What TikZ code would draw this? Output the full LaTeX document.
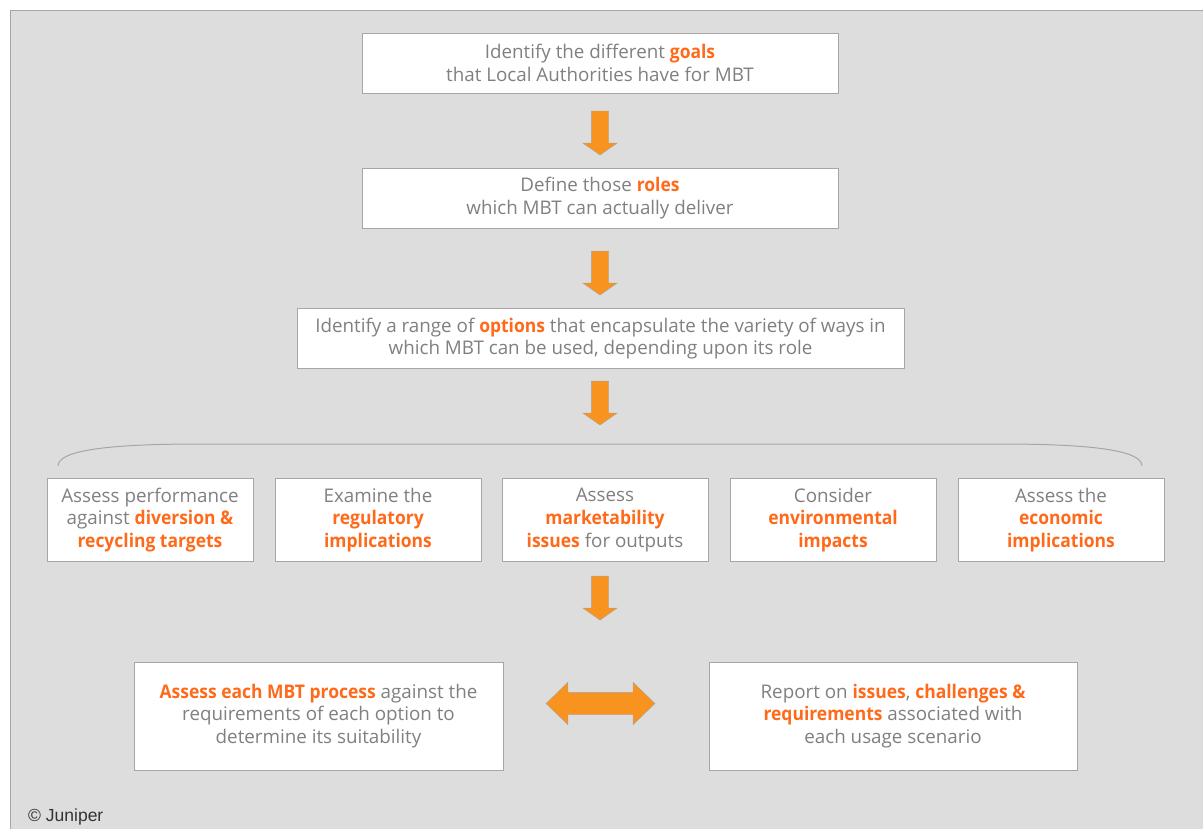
\documentclass[tikz,border=0pt]{standalone}
\usepackage{fontspec}
\setmainfont{Open Sans}[BoldFeatures={FakeStretch=0.93}]
\newfontfamily\copyfont{Liberation Sans}
\usetikzlibrary{shapes.arrows}
\definecolor{panelgray}{HTML}{DDDDDD}
\definecolor{linegray}{HTML}{A6A6A6}
\definecolor{textgray}{HTML}{808080}
\definecolor{hlorange}{HTML}{FF6A1A}
\definecolor{arrowfill}{HTML}{F7931E}
\newcommand{\hl}[1]{{\color{hlorange}\bfseries #1}}

\begin{document}
\begin{tikzpicture}[x=1pt,y=-1pt]
\tikzstyle{every node}=[font=\fontsize{18.8}{22.8}\selectfont, text=textgray];
\tikzstyle{stage}=[draw=linegray, fill=white, line width=1pt, align=center, minimum height=60pt];
\tikzstyle{crit}=[stage, minimum width=206pt, minimum height=83pt];
\tikzstyle{result}=[stage, minimum height=108pt];
\tikzstyle{downarrow}=[single arrow, rotate=-90, draw=linegray, fill=arrowfill, inner xsep=0pt, inner ysep=8.5pt, minimum height=44pt, minimum width=34pt, single arrow head extend=8.5pt, single arrow tip angle=110];
\useasboundingbox (0,0) rectangle (1203,828);
\draw[draw=linegray, fill=panelgray, line width=1pt] (10,10) rectangle (1220,840);
\path (600,63) node (goals)[stage, minimum width=476pt] {Identify the different \hl{goals}\\that Local Authorities have for MBT}
(600,198) node (roles)[stage, minimum width=476pt] {Define those \hl{roles}\\which MBT can actually deliver}
(600.5,338.5) node (options)[stage, minimum width=607pt] {Identify a range of \hl{options} that encapsulate the variety of ways in\\which MBT can be used, depending upon its role}
(150,520) node (diversion)[crit] {Assess performance\\against \hl{diversion \&}\\\hl{recycling targets}}
(378,520) node (regulatory)[crit] {Examine the\\\hl{regulatory}\\\hl{implications}}
(605,520) node (market)[crit] {Assess\\\hl{marketability}\\\hl{issues} for outputs}
(833,520) node (environ)[crit] {Consider\\\hl{environmental}\\\hl{impacts}}
(1061,520) node (economic)[crit] {Assess the\\\hl{economic}\\\hl{implications}}
(318.5,716) node (process)[result, minimum width=369pt] {\hl{Assess each MBT process} against the\\requirements of each option to\\determine its suitability}
(893,716) node (report)[result, minimum width=368pt] {Report on \hl{issues}, \hl{challenges \&}\\\hl{requirements} associated with\\each usage scenario}
(28,817) node (juniper)[anchor=west, inner sep=0pt, font=\copyfont\fontsize{17.5}{20}\selectfont, text=black!80] {© Juniper};
% block arrows between the stages
\path (600,130) node (arrgoals)[downarrow] {}
(600,270) node (arrroles)[downarrow] {}
(600,400) node (arroptions)[downarrow] {}
(600,595) node (arrcrit)[downarrow] {}
(600.5,703.5) node (arrboth)[double arrow, draw=linegray, fill=arrowfill, inner xsep=0pt, inner ysep=11pt, minimum height=109pt, minimum width=42pt, double arrow head extend=10pt, double arrow tip angle=88] {};
% brace over the criteria
\draw[linegray, line width=1pt] (58,466) .. controls (58,450) and (110,444) .. (200,444) -- (1000,444) .. controls (1090,444) and (1142,450) .. (1142,466);
\end{tikzpicture}
\end{document}
